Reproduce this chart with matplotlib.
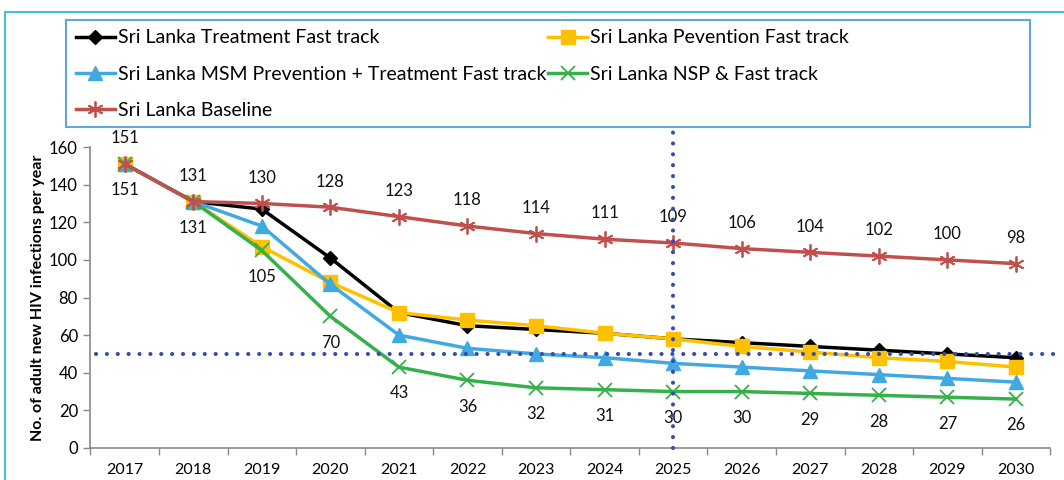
import numpy as np
import matplotlib.pyplot as plt
from matplotlib.patches import Rectangle

plt.rcParams['font.family'] = ['Lato', 'DejaVu Sans']

years = ['2017', '2018', '2019', '2020', '2021', '2022', '2023',
         '2024', '2025', '2026', '2027', '2028', '2029', '2030']
treatment = [151, 131, 127, 101, 72, 65, 63, 61, 58, 56, 54, 52, 50, 48]
prevention = [151, 131, 107, 88, 72, 68, 65, 61, 58, 54, 51, 48, 46, 43]
msm = [151, 131, 118, 87, 60, 53, 50, 48, 45, 43, 41, 39, 37, 35]
nsp = [151, 131, 105, 70, 43, 36, 32, 31, 30, 30, 29, 28, 27, 26]
baseline = [151, 131, 130, 128, 123, 118, 114, 111, 109, 106, 104, 102, 100, 98]
target_year = '2025'
target_value = 50

x = np.arange(len(years))

fig = plt.figure(figsize=(10.64, 4.8), dpi=100)
ax = fig.add_axes([0.085, 0.0667, 0.902, 0.627])

lw = 2.5
h_t, = ax.plot(x, treatment, color='black', marker='D', markersize=7.5, lw=lw,
               label='Sri Lanka Treatment Fast track', zorder=3)
h_p, = ax.plot(x, prevention, color='#FFC000', marker='s', markersize=10.5, lw=lw,
               label='Sri Lanka Pevention Fast track', zorder=3)
h_m, = ax.plot(x, msm, color='#3FA9E0', marker='^', markersize=9.5, lw=lw,
               label='Sri Lanka MSM Prevention + Treatment Fast track', zorder=3)
h_n, = ax.plot(x, nsp, color='#35B04A', marker='x', markersize=9.5, mew=1.3, lw=lw,
               label='Sri Lanka NSP & Fast track', zorder=3)
h_b, = ax.plot(x, baseline, color='#C0504D', marker=(6, 2, 0), markersize=11.5, mew=1.3,
               lw=lw, label='Sri Lanka Baseline', zorder=3)

# data labels: baseline above, NSP below
for xi, v in zip(x, baseline):
    ax.annotate(str(v), (xi, v), xytext=(0, 18.5), textcoords='offset points',
                ha='center', va='center', fontsize=12, color='#111111')
for xi, v in zip(x, nsp):
    ax.annotate(str(v), (xi, v), xytext=(0, -19), textcoords='offset points',
                ha='center', va='center', fontsize=12, color='#111111')

# target reference lines
dot = (0, (0.01, 2.6))
ti = years.index(target_year)
ax.plot([-0.42, 13.6], [target_value, target_value], color='#3A4BA8', lw=3,
        ls=dot, dash_capstyle='round', clip_on=False, zorder=4)
ax.plot([ti, ti], [0, 168], color='#3A4BA8', lw=3, ls=dot,
        dash_capstyle='round', clip_on=False, zorder=4)

ax.set_xlim(-0.5, len(years) - 0.5)
ax.set_ylim(0, 160)
ax.set_yticks(np.arange(0, 161, 20))
ax.set_xticks(x)
ax.set_xticklabels(years)
ax.set_xticks(np.arange(-0.5, len(years)), minor=True)
ax.tick_params(axis='x', which='major', length=0, pad=11, labelsize=11.5)
ax.tick_params(axis='x', which='minor', length=5, color='#888888', width=1)
ax.tick_params(axis='y', length=5, color='#888888', width=1, labelsize=12, pad=4)
for s in ['top', 'right']:
    ax.spines[s].set_visible(False)
for s in ['left', 'bottom']:
    ax.spines[s].set_color('#888888')
    ax.spines[s].set_linewidth(1.2)
ax.set_ylabel('No. of adult new HIV infections per year', fontsize=11.5,
              fontweight='bold', labelpad=3)

# legend (rows: T,P / MSM,NSP / Baseline)
fig.legend(handles=[h_t, h_m, h_b, h_p, h_n], ncol=2, loc='upper left',
           bbox_to_anchor=(0.064, 0.955), frameon=False, fontsize=14,
           handlelength=2.0, handletextpad=0.15, columnspacing=0.1,
           labelspacing=1.0, borderaxespad=0)
fig.patches.append(Rectangle((0.062, 0.735), 0.906, 0.223, transform=fig.transFigure,
                             fill=False, edgecolor='#5FA8D8', lw=1.5))
fig.patches.append(Rectangle((0.005, -0.1), 1.2, 1.075, transform=fig.transFigure,
                             fill=False, edgecolor='#45C0DC', lw=1.5))

fig.savefig('out.png', dpi=100)
